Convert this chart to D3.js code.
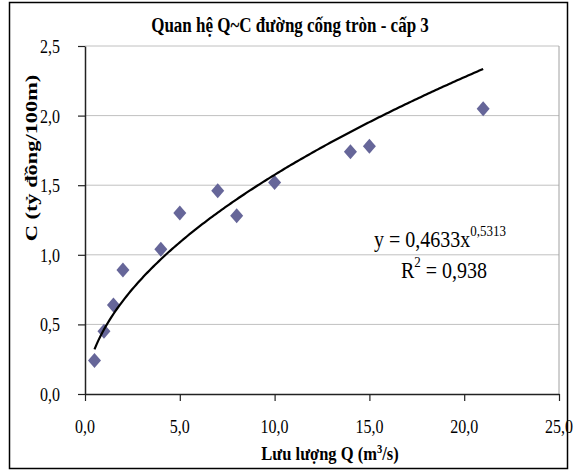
<!DOCTYPE html>
<html><head><meta charset="utf-8">
<script src="https://cdn.jsdelivr.net/npm/d3@7"></script>
<style>body{margin:0;background:#fff}svg{display:block}</style>
</head><body>
<svg id="c" width="576" height="475"></svg>
<script>
const Q = [0.5, 1, 1.5, 2, 4, 5, 7, 8, 10, 14, 15, 21];
const C = [0.24, 0.45, 0.64, 0.89, 1.04, 1.30, 1.46, 1.28, 1.52, 1.74, 1.78, 2.05];
const xTicks = [0, 5, 10, 15, 20, 25];
const yTicks = [0, 0.5, 1, 1.5, 2, 2.5];
const fitA = 0.4633, fitB = 0.5313;
const title = "Quan hệ Q~C đường cống tròn - cấp 3";
const yTitle = "C (tỷ đồng/100m)";

const svg = d3.select("#c");
const font = "'Liberation Serif','Times New Roman',serif";
const L = 85, R = 559, T = 46, B = 394;
const SY = 1.2; // vertical stretch of text in reference
const x = d3.scaleLinear().domain([0, 25]).range([L, R]);
const y = d3.scaleLinear().domain([0, 2.5]).range([B, T]);
const fmt = d => d.toFixed(1).replace(".", ",");

function txt(px, py, size, anchor, bold) {
  return svg.append("text").attr("transform", `translate(${px},${py}) scale(1,${SY})`)
    .attr("text-anchor", anchor).attr("font-family", font).attr("font-size", size)
    .attr("font-weight", bold ? "bold" : "normal").attr("fill", "#000");
}

// outer border
svg.append("rect").attr("x", 9.5).attr("y", 2.5).attr("width", 558).attr("height", 466)
  .attr("fill", "#fff").attr("stroke", "#000").attr("stroke-width", 1.5);

// gridlines
svg.append("g").selectAll("line").data(yTicks.filter(d => d > 0)).join("line")
  .attr("x1", L).attr("x2", R).attr("y1", d => y(d)).attr("y2", d => y(d))
  .attr("stroke", "#c0c0c0").attr("stroke-width", 1);
svg.append("line").attr("x1", R).attr("x2", R).attr("y1", T).attr("y2", B)
  .attr("stroke", "#a0a0a0").attr("stroke-width", 1);

// axes (lines and ticks)
const xAxis = svg.append("g").attr("transform", `translate(0,${B})`)
  .call(d3.axisBottom(x).tickValues(xTicks).tickFormat("").tickSizeInner(7).tickSizeOuter(0));
const yAxis = svg.append("g").attr("transform", `translate(${L},0)`)
  .call(d3.axisLeft(y).tickValues(yTicks).tickFormat("").tickSizeInner(7).tickSizeOuter(0));
[xAxis, yAxis].forEach(a => {
  a.select(".domain").attr("stroke", "#222").attr("stroke-width", 1.5);
  a.selectAll(".tick line").attr("stroke", "#222").attr("stroke-width", 1.2);
});
// tick labels
xTicks.forEach(d => txt(x(d), 433, 16, "middle", false).text(fmt(d)));
yTicks.forEach(d => txt(60, y(d) + 7, 16, "end", false).text(fmt(d)));

// markers
const diamond = "M0,-7.5L6.5,0L0,7.5L-6.5,0Z";
svg.append("g").selectAll("path").data(Q.map((q, i) => [q, C[i]])).join("path")
  .attr("d", diamond).attr("transform", d => `translate(${x(d[0])},${y(d[1])})`)
  .attr("fill", "#666699");

// trend line (power)
const fitX = d3.range(0.5, 21.0001, 0.1);
const line = d3.line().x(d => x(d)).y(d => y(fitA * Math.pow(d, fitB)));
svg.append("path").datum(fitX).attr("d", line).attr("fill", "none")
  .attr("stroke", "#000").attr("stroke-width", 2.2);

// title
txt(290, 32, 17, "middle", true).text(title);

// axis titles
const xt = txt(330, 460, 16.5, "middle", true);
xt.append("tspan").text("Lưu lượng Q (m");
xt.append("tspan").attr("font-size", 10.5).attr("dy", -6).text("3");
xt.append("tspan").attr("dy", 6).text("/s)");

svg.append("text").attr("transform", `translate(37,158) rotate(-90) scale(1.28,1)`)
  .attr("text-anchor", "middle").attr("font-family", font).attr("font-size", 17.5)
  .attr("font-weight", "bold").text(yTitle);

// equation
const eq = txt(374, 247, 20, "start", false);
eq.append("tspan").text("y = 0,4633x");
eq.append("tspan").attr("font-size", 13).attr("dy", -9).text("0,5313");
const r2 = txt(401, 278, 20, "start", false);
r2.append("tspan").text("R");
r2.append("tspan").attr("font-size", 13).attr("dy", -9).text("2");
r2.append("tspan").attr("dy", 9).text(" = 0,938");
</script>
</body></html>
